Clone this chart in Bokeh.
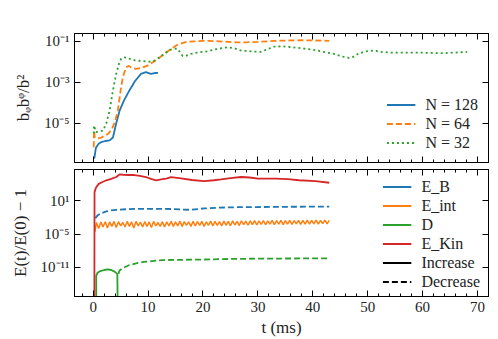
import numpy as np
from bokeh.plotting import figure
from bokeh.models import (Range1d, FixedTicker, SingleIntervalTicker, LinearAxis,
                          LogAxis, Legend, LegendItem, CustomJSTickFormatter)
from bokeh.layouts import column
from bokeh.embed import file_html
from bokeh.resources import INLINE

# ---------------- data (log10 of the quantity) ----------------
# top panel: b_phi b^phi / b^2
t_n128 = [0.2, 0.5, 1.0, 1.5, 2.2, 3.0, 3.6, 4.2, 4.8, 5.6, 6.6, 7.6, 8.7, 9.6, 10.5, 11.2, 11.8]
log_n128 = [-6.73, -6.2, -6.0, -5.92, -5.87, -5.84, -5.7, -5.0, -4.4, -3.9, -3.4, -2.95, -2.59,
            -2.51, -2.59, -2.55, -2.54]

t_n64 = [0.1, 0.15, 0.3, 0.8, 1.5, 2.2, 2.8, 3.4, 4.0, 4.5, 5.0, 5.4, 6.0, 6.5, 7.0, 7.8, 8.8,
         9.9, 11.0, 11.8, 13.0, 14.2, 15.5, 17, 18.5, 20, 22, 24, 26, 28, 30, 32, 34, 36, 38,
         40, 42, 43]
log_n64 = [-6.17, -5.36, -5.7, -5.75, -5.7, -5.6, -5.5, -5.3, -4.9, -4.38, -3.4, -2.76, -2.27,
           -2.2, -2.3, -2.35, -2.3, -2.19, -2.0, -1.86, -1.6, -1.37, -1.15, -1.03, -1.0, -0.98,
           -0.99, -1.02, -1.05, -1.05, -1.03, -1.0, -0.97, -0.96, -0.95, -0.96, -0.97, -0.98]

t_n32 = [0.1, 0.15, 0.5, 1.2, 1.8, 2.4, 3.0, 3.6, 4.2, 4.7, 5.1, 5.6, 6.2, 7.0, 7.8, 9.0, 10.5,
         11.3, 12.1, 13.0, 13.9, 14.8, 15.4, 16.3, 17.0, 17.8, 19, 20.8, 22.5, 24.5, 25.8, 26.9,
         28.7, 30.5, 31.8, 33, 34.5, 36, 38.5, 40.8, 42.5, 43.9, 45.5, 46.6, 47.5, 48.2, 49.5,
         51.1, 52.5, 54, 56, 59, 61.5, 63.9, 66, 68.1]
log_n32 = [-5.5, -5.11, -5.44, -5.4, -5.36, -5.0, -4.38, -3.4, -2.59, -2.1, -1.85, -1.78, -1.8,
           -1.9, -1.94, -1.97, -2.0, -1.93, -1.78, -1.6, -1.42, -1.36, -1.37, -1.72, -1.7, -1.62,
           -1.55, -1.49, -1.38, -1.29, -1.35, -1.45, -1.49, -1.52, -1.38, -1.26, -1.25, -1.28,
           -1.36, -1.45, -1.55, -1.62, -1.75, -1.81, -1.75, -1.62, -1.5, -1.45, -1.52, -1.55,
           -1.55, -1.55, -1.57, -1.58, -1.55, -1.52]

# bottom panel: |E(t)/E(0) - 1|
t_ekin = [0.2, 0.25, 0.5, 1.0, 1.6, 2.4, 3.3, 4.2, 4.8, 5.5, 6.5, 7.5, 8.5, 9.6, 10.5, 11.5,
          12.4, 13.3, 14.2, 16, 18, 20.2, 22, 23.3, 25, 26.9, 28.5, 30, 33.3, 35.5, 37.5, 40.5, 43]
log_ekin = [-30, 2.6, 3.4, 4.1, 4.4, 4.75, 5.0, 5.34, 5.8, 5.75, 5.7, 5.7, 5.55, 5.34, 5.0, 4.75,
            4.9, 5.05, 5.3, 5.1, 4.8, 4.6, 4.75, 4.9, 5.15, 5.34, 5.25, 5.05, 5.05, 4.95, 4.75,
            4.6, 4.3]

t_eb = [0.4, 0.8, 1.5, 2.4, 3.3, 4.2, 6, 7.8, 10, 12, 14.2, 16, 17.8, 20.2, 23, 26.3, 29.6, 33,
        36, 40, 43]
log_eb = [-2.1, -1.6, -1.2, -0.9, -0.72, -0.6, -0.5, -0.43, -0.43, -0.43, -0.45, -0.55, -0.6,
          -0.35, -0.2, -0.13, -0.1, -0.08, -0.05, -0.03, -0.01]

t_eint = [0.3, 0.6, 1.0, 1.4, 1.8, 2.2, 2.6, 3.0, 3.4, 3.8, 4.2, 4.6, 5.0, 5.4, 5.8, 6.2, 6.6,
          7.0, 7.4, 7.8, 8.2, 8.6, 9.0, 9.4, 9.8, 10.2, 10.6, 11.0, 11.4, 11.8, 12.2, 12.6, 13.0,
          13.4, 13.8, 14.2, 14.6, 15.0, 15.4, 15.8, 16.2, 16.6, 17.0, 17.4, 17.8, 18.2, 18.6,
          19.0, 19.4, 19.8, 20.2, 20.6, 21.0, 21.4, 21.8, 22.2, 22.6, 23.0, 23.4, 23.8, 24.2,
          24.6, 25.0, 25.4, 25.8, 26.2, 26.6, 27.0, 27.4, 27.8, 28.2, 28.6, 29.0, 29.4, 29.8,
          30.2, 30.6, 31.0, 31.4, 31.8, 32.2, 32.6, 33.0, 33.4, 33.8, 34.2, 34.6, 35.0, 35.4,
          35.8, 36.2, 36.6, 37.0, 37.4, 37.8, 38.2, 38.6, 39.0, 39.4, 39.8, 40.2, 40.6, 41.0,
          41.4, 41.8, 42.2, 42.6, 43.0]
log_eint = [-4.6, -2.9, -4.0, -2.8, -3.7, -2.75, -3.9, -2.8, -3.6, -2.7, -3.8, -2.75, -3.5, -2.9,
            -3.7, -2.7, -3.6, -2.8, -3.9, -2.7, -3.5, -2.85, -3.7, -2.75, -3.6, -2.8, -3.8, -2.7,
            -3.5, -2.9, -3.6, -2.75, -3.7, -2.8, -3.5, -2.7, -3.6, -2.8, -3.5, -2.7, -3.6, -2.75,
            -3.4, -2.8, -3.6, -2.7, -3.5, -2.75, -3.4, -2.7, -3.6, -2.8, -3.4, -2.65, -3.5, -2.7,
            -3.4, -2.75, -3.5, -2.65, -3.4, -2.7, -3.5, -2.6, -3.35, -2.7, -3.45, -2.6, -3.3,
            -2.65, -3.4, -2.6, -3.3, -2.55, -3.35, -2.6, -3.25, -2.55, -3.3, -2.6, -3.2, -2.5,
            -3.3, -2.55, -3.2, -2.5, -3.3, -2.55, -3.2, -2.5, -3.25, -2.55, -3.15, -2.5, -3.25,
            -2.5, -3.2, -2.45, -3.2, -2.5, -3.15, -2.45, -3.2, -2.5, -3.1, -2.45, -3.15, -2.5]

t_d_inc = [0.55, 0.56, 0.8, 1.3, 2.0, 2.65, 3.3, 3.9, 4.4, 4.6]
log_d_inc = [-30, -12.5, -12.0, -11.7, -11.5, -11.4, -11.5, -11.8, -12.2, -30]
t_d_dec = [4.6, 4.8, 5.5, 6.6, 8, 9.6, 12.7, 15.2, 20, 25, 30, 35, 43]
log_d_dec = [-12.2, -11.6, -11.1, -10.6, -10.25, -10.0, -9.7, -9.67, -9.6, -9.5, -9.45, -9.42, -9.4]

top_ticks = [1e-1, 1e-3, 1e-5]
top_tick_labels = ["10\u207b\u00b9", "10\u207b\u00b3", "10\u207b\u2075"]
bot_ticks = [1e1, 1e-5, 1e-11]
bot_tick_labels = ["10\u00b9", "10\u207b\u2075", "10\u207b\u00b9\u00b9"]
top_legend_labels = ["N = 128", "N = 64", "N = 32"]
bot_legend_labels = ["E_B", "E_int", "D", "E_Kin", "Increase", "Decrease"]

BLUE, ORANGE, GREEN, RED = "#1f77b4", "#ff7f0e", "#2ca02c", "#d62728"
FONT = "Liberation Serif"
LW = 1.8

x_range = Range1d(-3.4, 72)


def style_axis(ax, labels=True):
    ax.major_tick_in = 6
    ax.major_tick_out = 0
    ax.minor_tick_in = 3
    ax.minor_tick_out = 0
    ax.axis_line_color = "black"
    ax.major_tick_line_color = "black"
    ax.minor_tick_line_color = "black"
    ax.major_label_text_font = FONT
    ax.major_label_text_font_size = "15px"
    ax.major_label_text_color = "#222222"
    ax.axis_label_text_font = FONT
    ax.axis_label_text_font_style = "normal"
    ax.axis_label_text_font_size = "17px"
    ax.axis_label_text_color = "#222222"
    if not labels:
        ax.formatter = CustomJSTickFormatter(code="return '';")
        ax.major_label_standoff = 0


def make_fig(height, yr, yticks, ylabels, ylabel, show_xlabels, border_top, border_bottom):
    bottom = LinearAxis(ticker=SingleIntervalTicker(interval=10, num_minor_ticks=5))
    left = LogAxis(ticker=FixedTicker(ticks=yticks, minor_ticks=[]))
    top = LinearAxis(ticker=SingleIntervalTicker(interval=10, num_minor_ticks=5))
    right = LogAxis(ticker=FixedTicker(ticks=yticks, minor_ticks=[]))
    p = figure(width=498, height=height, x_range=x_range, y_range=yr,
               x_axis_location=None, y_axis_location=None, y_axis_type="log",
               output_backend="svg", toolbar_location=None,
               min_border_left=74, min_border_right=10,
               min_border_top=border_top, min_border_bottom=border_bottom)
    p.grid.visible = False
    p.outline_line_color = "black"
    p.background_fill_color = "white"
    p.border_fill_color = "white"
    style_axis(bottom, labels=show_xlabels)
    left.major_label_overrides = dict(zip(yticks, ylabels))
    left.axis_label = ylabel
    left.axis_label_standoff = 8
    style_axis(left)
    style_axis(top, labels=False)
    style_axis(right, labels=False)
    p.add_layout(bottom, "below")
    p.add_layout(left, "left")
    p.add_layout(top, "above")
    p.add_layout(right, "right")
    return p, bottom


def style_legend(leg, padding):
    leg.border_line_alpha = 0
    leg.background_fill_alpha = 0
    leg.label_text_font = FONT
    leg.label_text_font_size = "16px"
    leg.label_text_color = "#222222"
    leg.glyph_width = 29
    leg.glyph_height = 19
    leg.label_height = 19
    leg.label_standoff = 10
    leg.spacing = 0
    leg.margin = 0
    leg.padding = padding


# ---------------- top panel ----------------
p1, _ = make_fig(165, Range1d(10 ** -6.92, 10 ** -0.62), top_ticks, top_tick_labels,
                 "b\u1d69b\u1d60/b\u00b2", False, 33, 3)
r128 = p1.line(t_n128, 10 ** np.array(log_n128), line_color=BLUE, line_width=LW)
r64 = p1.line(t_n64, 10 ** np.array(log_n64), line_color=ORANGE, line_width=LW, line_dash="6 3")
r32 = p1.line(t_n32, 10 ** np.array(log_n32), line_color=GREEN, line_width=LW, line_dash="2 3")
leg1 = Legend(items=[LegendItem(label=l, renderers=[r]) for l, r in
                     zip(top_legend_labels, [r128, r64, r32])], location="bottom_right")
style_legend(leg1, 10)
p1.add_layout(leg1)

# ---------------- bottom panel ----------------
p2, xb = make_fig(174, Range1d(10 ** -16.3, 10 ** 6.7), bot_ticks, bot_tick_labels,
                  "E(t)/E(0) \u2212 1", True, 4, 41)
xb.axis_label = "t (ms)"
xb.axis_label_standoff = 3
xb.major_label_standoff = 5

p2.line(t_eint, 10 ** np.array(log_eint), line_color=ORANGE, line_width=1.5)
p2.line(t_eb, 10 ** np.array(log_eb), line_color=BLUE, line_width=LW, line_dash="6 3")
p2.line(t_d_inc, 10 ** np.array(log_d_inc), line_color=GREEN, line_width=LW)
p2.line(t_d_dec, 10 ** np.array(log_d_dec), line_color=GREEN, line_width=LW, line_dash="6 3")
p2.line(t_ekin, 10 ** np.array(log_ekin), line_color=RED, line_width=LW)

# legend-only renderers (kept outside the visible x range)
leg_specs = [(BLUE, "solid"), (ORANGE, "solid"), (GREEN, "solid"), (RED, "solid"),
             ("black", "solid"), ("black", "6 3")]
leg_rs = [p2.line(x=[-200, -190], y=[1, 1], line_color=c, line_width=LW, line_dash=d)
          for c, d in leg_specs]
leg2 = Legend(items=[LegendItem(label=l, renderers=[r]) for l, r in
                     zip(bot_legend_labels, leg_rs)], location="top_right")
style_legend(leg2, 8)
p2.add_layout(leg2)

layout = column(p1, p2, spacing=0)
open("out.html", "w").write(file_html(layout, INLINE))
